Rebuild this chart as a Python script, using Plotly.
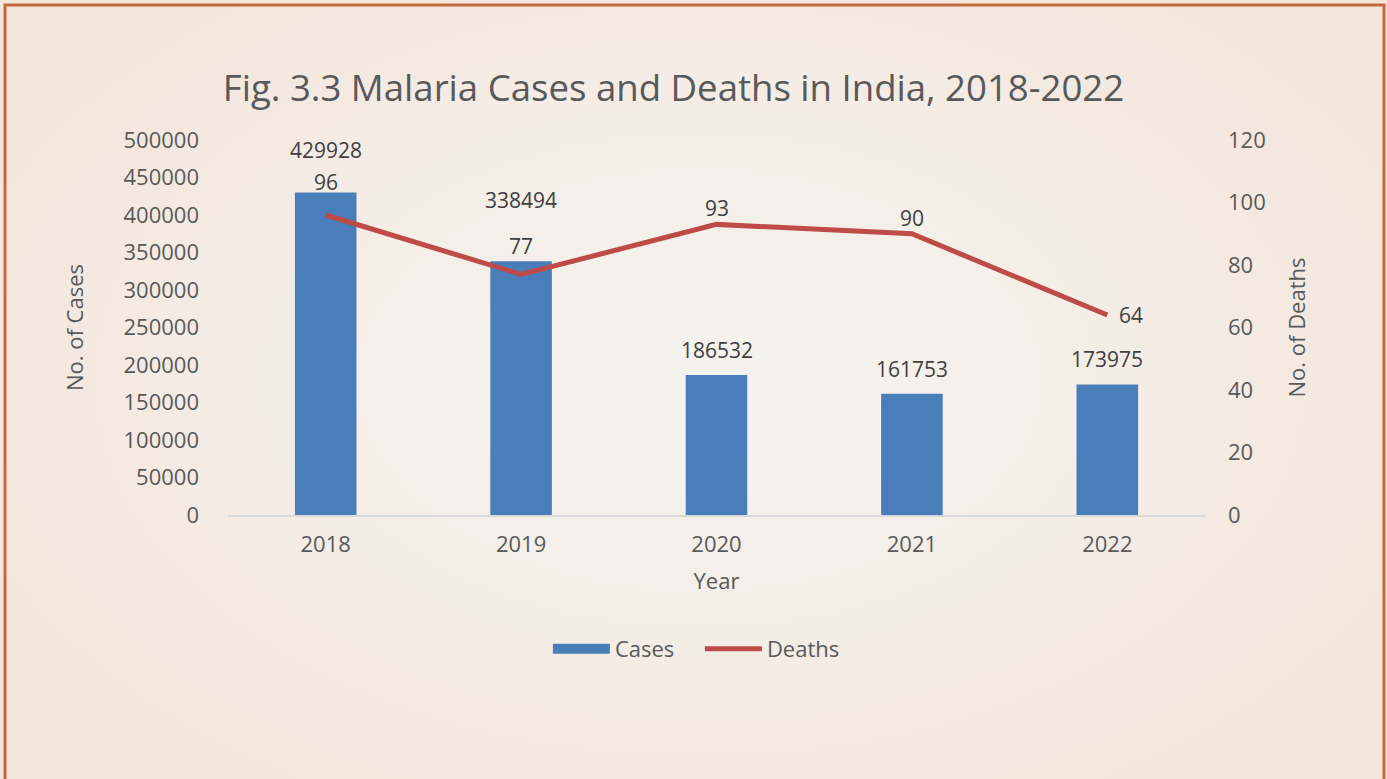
import plotly.graph_objects as go

years = ["2018", "2019", "2020", "2021", "2022"]
cases = [429928, 338494, 186532, 161753, 173975]
deaths = [96, 77, 93, 90, 64]

# label offsets (px) as placed in the original chart
case_label_shift = [43, 61, 25, 25, 26]
death_label_shift = [(0, 33), (0, 28), (0, 16), (0, 16), (24, 0)]

W, H = 1387, 779
L, R, T, B = 228, 1205, 140, 515


def px(x, y):
    # pixel -> paper coords
    return (x - L) / (R - L), (B - y) / (B - T)


txt = "#595959"
font = "Open Sans, Noto Sans, sans-serif"
blue = "#4A7EBB"
red = "#BE4B48"

fig = go.Figure()
fig.add_trace(go.Bar(
    x=years, y=cases, name="Cases", marker_color=blue,
    marker_line_width=0, yaxis="y", showlegend=False,
))
fig.add_trace(go.Scatter(
    x=years, y=deaths, name="Deaths", mode="lines",
    line=dict(color=red, width=5), yaxis="y2", showlegend=False,
))
# legend entries (wide blue block, red line)
fig.add_trace(go.Scatter(x=[None], y=[None], name="Cases", mode="lines",
                         line=dict(color=blue, width=13)))
fig.add_trace(go.Scatter(x=[None], y=[None], name="Deaths", mode="lines",
                         line=dict(color=red, width=5)))

annotations = []
for i, (v, s) in enumerate(zip(cases, case_label_shift)):
    annotations.append(dict(x=i, y=v, xref="x", yref="y", text=str(v), showarrow=False,
                            yshift=s, font=dict(size=21, color="#404040", family=font)))
for i, (v, (dx, dy)) in enumerate(zip(deaths, death_label_shift)):
    annotations.append(dict(x=i, y=v, xref="x", yref="y2", text=str(v), showarrow=False,
                            xshift=dx, yshift=dy, font=dict(size=21, color="#404040", family=font)))

# soft radial glow behind the chart
shapes = []
cx, cy = 700, 380
for i in range(14):
    rx = 760 - i * 52
    ry = 470 - i * 32
    x0, y0 = px(cx - rx, cy + ry)
    x1, y1 = px(cx + rx, cy - ry)
    shapes.append(dict(type="circle", xref="paper", yref="paper", x0=x0, y0=y0, x1=x1, y1=y1,
                       fillcolor="#FFFFFF", opacity=0.07, line_width=0, layer="below"))
bx0, by0 = px(5, 790)
bx1, by1 = px(1384, 5)
shapes.append(dict(type="rect", xref="paper", yref="paper", x0=bx0, y0=by0, x1=bx1, y1=by1,
                   line=dict(color="#C4693B", width=3), fillcolor="rgba(0,0,0,0)", layer="above"))

fig.update_layout(
    width=W, height=H,
    margin=dict(l=L, r=W - R, t=T, b=H - B),
    paper_bgcolor="#F4E6DA",
    plot_bgcolor="rgba(0,0,0,0)",
    font=dict(family=font, color=txt, size=21),
    title=dict(text="Fig. 3.3 Malaria Cases and Deaths in India, 2018-2022",
               x=0.456, xref="paper", xanchor="center", y=1 - 88 / H, yanchor="middle",
               font=dict(size=36.6, color=txt, family=font)),
    bargap=0.685,
    xaxis=dict(type="category", categoryorder="array", categoryarray=years,
               range=[-0.5, len(years) - 0.5], autorange=False,
               showgrid=False, showline=True, linecolor="#D9D9D9",
               linewidth=1.5, ticks="", ticklabelstandoff=9, tickfont=dict(size=22, color=txt),
               title=dict(text="Year", font=dict(size=22, color=txt), standoff=16)),
    yaxis=dict(range=[0, 500000], dtick=50000, showgrid=False, zeroline=False,
               showline=False, ticks="", tickformat="d", ticklabelstandoff=28,
               tickfont=dict(size=22, color=txt),
               title=dict(text="No. of Cases", font=dict(size=22, color=txt), standoff=33)),
    yaxis2=dict(range=[0, 120], dtick=20, overlaying="y", side="right", showgrid=False,
                zeroline=False, showline=False, ticks="", ticklabelstandoff=22,
                tickfont=dict(size=22, color=txt),
                title=dict(text="No. of Deaths", font=dict(size=22, color=txt), standoff=24)),
    legend=dict(orientation="h", x=0.483, xanchor="center", y=px(0, 649)[1], yanchor="middle",
                font=dict(size=22, color=txt), bgcolor="rgba(0,0,0,0)",
                itemwidth=57, entrywidth=80),
    annotations=annotations,
    shapes=shapes,
)

fig.write_html("out.html", config={"displayModeBar": False},
               post_script="document.body.style.margin='0';")
